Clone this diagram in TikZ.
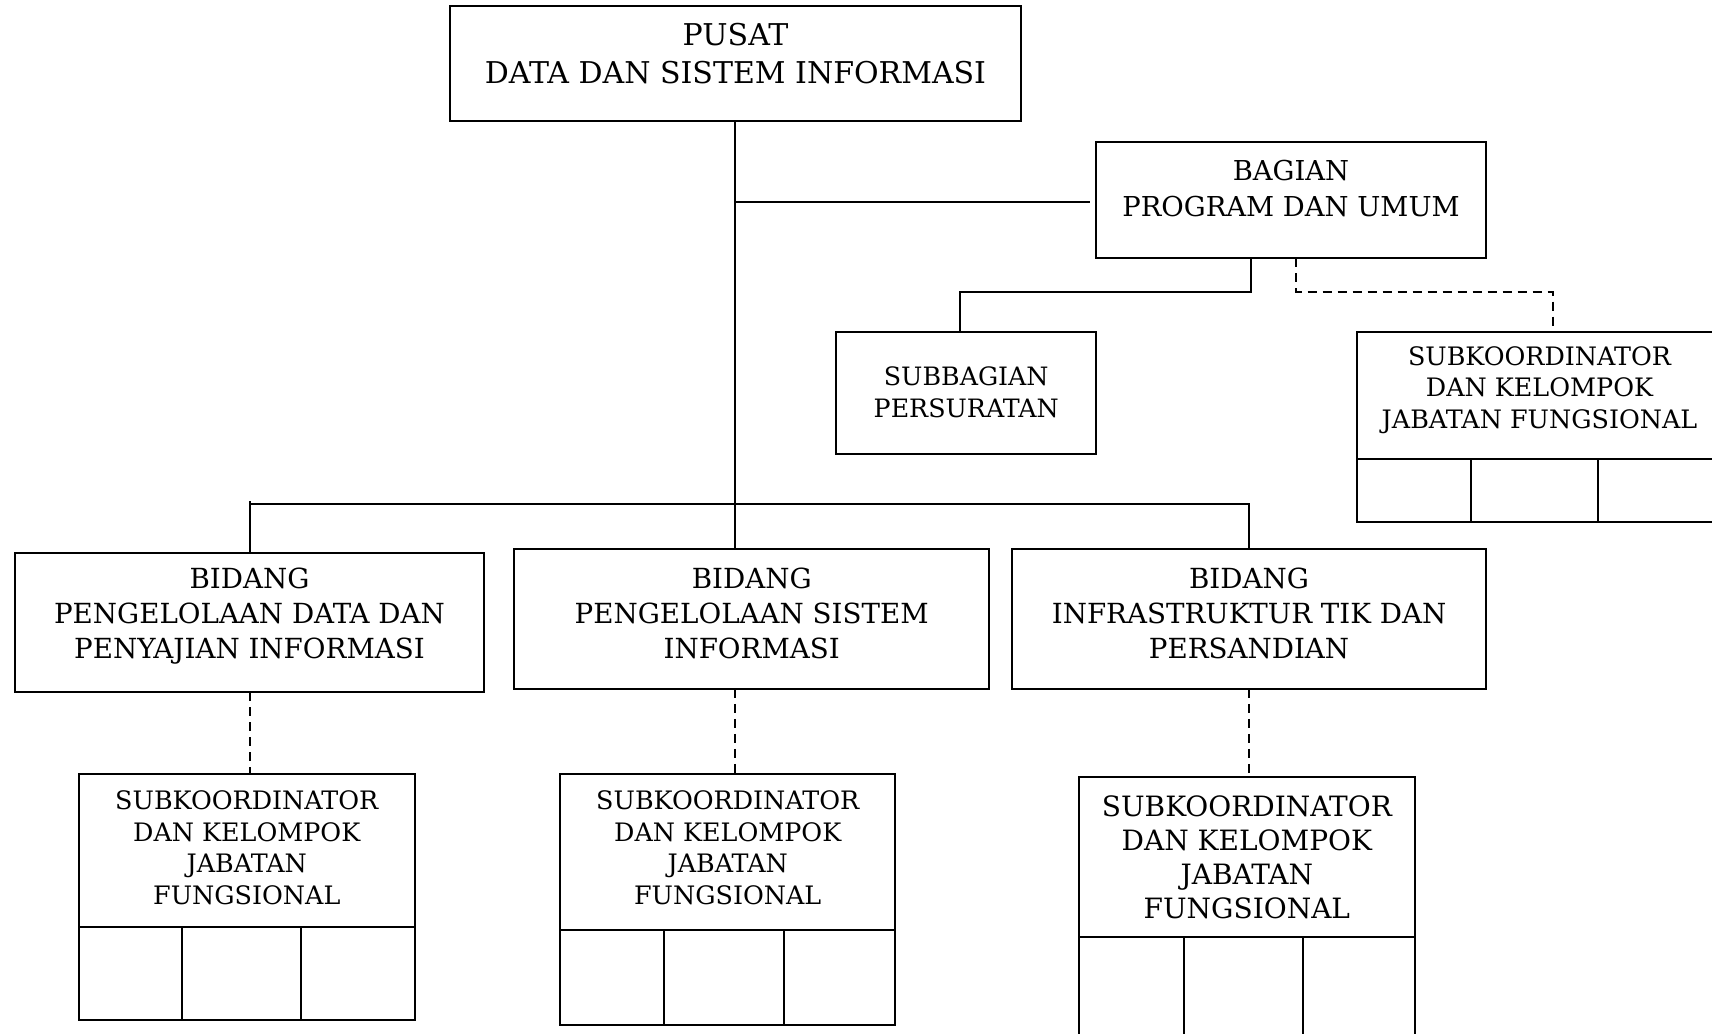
\documentclass[tikz,border=0pt]{standalone}
\usepackage{fontspec}
\setmainfont{DejaVu Serif}
\usetikzlibrary{calc,fit}
\newcommand\orgbox[5]{\node[box, fit={(#2,#3) (#4,#5)}] (#1) {};}
\begin{document}
\begin{tikzpicture}[x=0.5pt,y=-0.5pt,
  box/.style={draw, line width=1pt, inner sep=0pt, outer sep=0pt},
  conn/.style={line width=1pt},
  dconn/.style={line width=1pt, dash pattern=on 4.5pt off 3pt},
  txt/.style={align=center, inner sep=0pt},
  fTop/.style={font=\fontsize{15.0}{19}\selectfont},
  fBag/.style={font=\fontsize{13.7}{18}\selectfont},
  fBid/.style={font=\fontsize{13.85}{17.5}\selectfont},
  fSml/.style={font=\fontsize{12.65}{15.8}\selectfont},
  fSub/.style={font=\fontsize{12.7}{15.8}\selectfont},
  fSubL/.style={font=\fontsize{14.0}{17}\selectfont}
]
\useasboundingbox (0,0) rectangle (1712,1033);
\fill[white] (0,0) rectangle (1712,1033);

% main boxes
\orgbox{top}{450}{5.5}{1021}{121}
\orgbox{bag}{1096}{142}{1486}{258}
\orgbox{sbg}{836.3}{331.9}{1096.2}{454.2}
\orgbox{bid1}{15.3}{552.5}{483.7}{692.2}
\orgbox{bid2}{514.2}{549.2}{989.2}{688.9}
\orgbox{bid3}{1012.1}{549.2}{1486}{688.9}

% subkoordinator boxes (title + three cells)
\orgbox{subR}{1357}{332}{1722}{458.6}
\orgbox{subRa}{1357}{458.6}{1470.7}{521.9}
\orgbox{subRb}{1470.7}{458.6}{1598.4}{521.9}
\orgbox{subRc}{1598.4}{458.6}{1722}{521.9}

\orgbox{sub1}{78.6}{774.1}{414.9}{926.9}
\orgbox{sub1a}{78.6}{926.9}{182.3}{1019.7}
\orgbox{sub1b}{182.3}{926.9}{301.3}{1019.7}
\orgbox{sub1c}{301.3}{926.9}{414.9}{1019.7}

\orgbox{sub2}{560.1}{774.1}{895.3}{930.2}
\orgbox{sub2a}{560.1}{930.2}{663.8}{1025.2}
\orgbox{sub2b}{663.8}{930.2}{783.9}{1025.2}
\orgbox{sub2c}{783.9}{930.2}{895.3}{1025.2}

\orgbox{sub3}{1078.7}{777.4}{1415}{936.8}
\orgbox{sub3a}{1078.7}{936.8}{1183.5}{1036}
\orgbox{sub3b}{1183.5}{936.8}{1302.5}{1036}
\orgbox{sub3c}{1302.5}{936.8}{1415}{1036}

% texts
\node[txt,fTop] (topT) at ($(top.center)+(0,-9.3)$) {PUSAT\\DATA DAN SISTEM INFORMASI};
\node[txt,fBag] (bagT) at ($(bag.center)+(0,-11.7)$) {BAGIAN\\PROGRAM DAN UMUM};
\node[txt,fSml] (sbgT) at ($(sbg.center)+(0,-0.5)$) {SUBBAGIAN\\PERSURATAN};
\node[txt,fSub] (subRT) at ($(subR.center)+(0,-5.3)$) {SUBKOORDINATOR\\DAN KELOMPOK\\JABATAN FUNGSIONAL};
\node[txt,fBid] (bid1T) at ($(bid1.center)+(0,-6.3)$) {BIDANG\\PENGELOLAAN DATA DAN\\PENYAJIAN INFORMASI};
\node[txt,fBid] (bid2T) at ($(bid2.center)+(0,-6)$) {BIDANG\\PENGELOLAAN SISTEM\\INFORMASI};
\node[txt,fBid] (bid3T) at ($(bid3.center)+(0,-6)$) {BIDANG\\INFRASTRUKTUR TIK DAN\\PERSANDIAN};
\node[txt,fSub] (sub1T) at ($(sub1.center)+(0,-2.7)$) {SUBKOORDINATOR\\DAN KELOMPOK\\JABATAN\\FUNGSIONAL};
\node[txt,fSub] (sub2T) at ($(sub2.center)+(0,-4.3)$) {SUBKOORDINATOR\\DAN KELOMPOK\\JABATAN\\FUNGSIONAL};
\node[txt,fSubL] (sub3T) at ($(sub3.center)+(0,0)$) {SUBKOORDINATOR\\DAN KELOMPOK\\JABATAN\\FUNGSIONAL};

% connectors
\coordinate (bus) at (735,504.4);
\coordinate (bagL) at (1089.6,202);
\coordinate (j1) at (1251.2,291.5);
\coordinate (j2) at (1296,291.5);
\coordinate (j3) at (1552.5,291.5);

\draw[conn] (top.south -| bus) -- (bid2.north -| bus);
\draw[conn] (top.south |- bagL) -- (bagL);
\draw[conn] (bid1.north) |- (bus) -| (bid3.north);
\draw[conn] (bid1.north) -- ++(0,-52);
\draw[conn] (bag.south -| j1) -- (j1) -| ($(sbg.north)+(-6,0)$);
\draw[dconn] (bag.south -| j2) -- (j2) -- (j3) -- (subR.north -| j3);

\draw[dconn] (bid1.south) -- (bid1.south |- sub1.north);
\draw[dconn] (bid2.south -| bus) -- (sub2.north -| bus);
\draw[dconn] (bid3.south) -- (bid3.south |- sub3.north);
\end{tikzpicture}
\end{document}
